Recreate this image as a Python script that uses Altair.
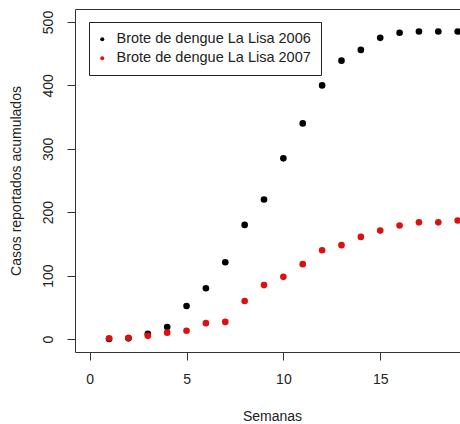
import altair as alt
import pandas as pd

semanas = list(range(1, 20))
casos_2006 = [0, 1, 8, 19, 52, 80, 121, 180, 220, 285, 340, 400, 439, 456, 475, 483, 485, 485, 485]
casos_2007 = [1, 2, 5, 10, 13, 25, 27, 60, 85, 98, 118, 140, 148, 161, 171, 179, 184, 184, 187]
series = ["Brote de dengue La Lisa 2006", "Brote de dengue La Lisa 2007"]
colores = ["#000000", "#dc1010"]

rows = []
for s, vals in zip(series, [casos_2006, casos_2007]):
    for w, v in zip(semanas, vals):
        rows.append({"Semana": w, "Casos": v, "Serie": s})
df = pd.DataFrame(rows)

FONT = "Liberation Sans"
xscale = alt.Scale(domain=[-0.76, 19.12], nice=False, zero=False)
yscale = alt.Scale(domain=[-20.5, 520.5], nice=False, zero=False)

points = alt.Chart(df).mark_circle(size=44, opacity=1).encode(
    x=alt.X("Semana:Q", scale=xscale,
            axis=alt.Axis(orient="bottom", values=[0, 5, 10, 15], title="Semanas", grid=False,
                          tickSize=8, labelPadding=12, domainColor="#333333",
                          tickColor="#333333", labelColor="#222222", titleColor="#222222",
                          labelFontSize=14, titleFontSize=14, labelFont=FONT, titleFont=FONT,
                          titleFontWeight="normal", titleX=197, titleY=64,
                          titleBaseline="middle", titleAnchor="middle")),
    y=alt.Y("Casos:Q", scale=yscale,
            axis=alt.Axis(values=[0, 100, 200, 300, 400, 500],
                          title="Casos reportados acumulados", grid=False,
                          tickSize=8, labelPadding=12, labelAngle=270,
                          labelAlign="center", labelBaseline="bottom",
                          domainColor="#333333", tickColor="#333333",
                          labelColor="#222222", titleColor="#222222",
                          labelFontSize=14, titleFontSize=14, labelFont=FONT, titleFont=FONT,
                          titleFontWeight="normal", titleAngle=270, titleX=-59, titleY=171.5,
                          titleBaseline="middle", titleAlign="center")),
    color=alt.Color("Serie:N", scale=alt.Scale(domain=series, range=colores),
                    legend=alt.Legend(title=None, orient="none", legendX=14, legendY=13,
                                      direction="vertical", strokeColor="#222222",
                                      fillColor="white", padding=10, symbolSize=16,
                                      symbolType="circle", symbolOffset=-4,
                                      labelOffset=7, labelLimit=0,
                                      labelFontSize=14.5, labelFont=FONT, labelColor="#222222",
                                      rowPadding=4, cornerRadius=0)),
)

frame_top = alt.Chart(df).mark_circle(opacity=0).encode(
    x=alt.X("Semana:Q", scale=xscale,
            axis=alt.Axis(orient="top", labels=False, ticks=False, title=None,
                          grid=False, domain=True, domainColor="#333333")),
)

chart = alt.layer(points, frame_top).resolve_scale(x="independent").properties(
    width=385, height=343,
    autosize=alt.AutoSizeParams(type="none"),
    padding={"left": 75, "top": 9, "right": 0, "bottom": 72},
    background="white",
).configure_view(stroke=None)

chart.save("out.html", embed_options={"renderer": "svg", "actions": False})
